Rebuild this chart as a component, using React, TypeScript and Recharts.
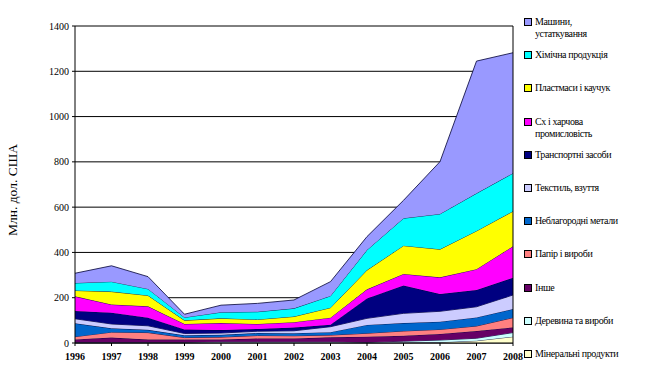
import { AreaChart, Area, XAxis, YAxis, CartesianGrid, ReferenceLine } from 'recharts';

const years = ['1996', '1997', '1998', '1999', '2000', '2001', '2002', '2003', '2004', '2005', '2006', '2007', '2008'];
const yTicks = [0, 200, 400, 600, 800, 1000, 1200, 1400];

// bottom layer first
const mineral = [1, 1, 1, 1, 2, 2, 2, 2, 1, 2, 3, 10, 28];
const wood = [2, 2, 2, 2, 4, 4, 4, 4, 2, 6, 10, 11, 18];
const other = [13, 21, 12, 12, 9, 14, 14, 19, 25, 24, 27, 32, 23];
const paper = [12, 24, 31, 9, 11, 13, 12, 10, 15, 21, 20, 22, 43];
const metals = [59, 17, 12, 10, 10, 11, 11, 13, 37, 35, 34, 38, 38];
const textile = [20, 19, 18, 8, 8, 8, 11, 24, 29, 43, 46, 47, 62];
const transport = [34, 50, 36, 18, 13, 10, 14, 9, 88, 123, 76, 74, 76];
const food = [65, 36, 50, 24, 31, 22, 24, 31, 40, 51, 74, 92, 139];
const plastics = [26, 57, 48, 16, 21, 20, 25, 44, 85, 125, 124, 169, 155];
const chemicals = [33, 44, 29, 13, 27, 34, 36, 52, 89, 121, 156, 166, 168];
const machines = [43, 70, 54, 14, 31, 37, 37, 63, 59, 79, 231, 584, 532];

const series = [
  { key: 'mineral', name: 'Мінеральні продукти', color: '#FFFFCC', values: mineral },
  { key: 'wood', name: 'Деревина та вироби', color: '#CCFFFF', values: wood },
  { key: 'other', name: 'Інше', color: '#660066', values: other },
  { key: 'paper', name: 'Папір і вироби', color: '#FF8080', values: paper },
  { key: 'metals', name: 'Неблагородні метали', color: '#0066CC', values: metals },
  { key: 'textile', name: 'Текстиль, взуття', color: '#CCCCFF', values: textile },
  { key: 'transport', name: 'Транспортні засоби', color: '#000080', values: transport },
  { key: 'food', name: 'Сх і харчова\nпромисловість', color: '#FF00FF', values: food },
  { key: 'plastics', name: 'Пластмаси і каучук', color: '#FFFF00', values: plastics },
  { key: 'chemicals', name: 'Хімічна продукція', color: '#00FFFF', values: chemicals },
  { key: 'machines', name: 'Машини,\nустаткування', color: '#9999FF', values: machines },
];

const data = years.map((year, i) => {
  const row: Record<string, string | number> = { year };
  series.forEach((s) => { row[s.key] = s.values[i]; });
  return row;
});

const serif = '"Liberation Serif", "Times New Roman", serif';

function ChartLegend() {
  return (
    <div style={{ position: 'absolute', left: 524, top: 16, width: 124, fontFamily: serif, fontSize: 10, color: '#000', letterSpacing: -0.4 }}>
      {[...series].reverse().map((s) => (
        <div key={s.key} style={{ height: 33.2, display: 'flex', alignItems: 'flex-start' }}>
          <span style={{ width: 6, height: 6, marginTop: 2, marginRight: 3, flexShrink: 0, background: s.color, border: '1px solid #000' }} />
          <span style={{ whiteSpace: 'pre-line', lineHeight: '12px' }}>{s.name}</span>
        </div>
      ))}
    </div>
  );
}

export default function App() {
  return (
    <div style={{ position: 'absolute', left: 0, top: 0, width: 648, height: 381, background: '#fff' }}>
      <AreaChart width={648} height={381} data={data} margin={{ top: 26, right: 135, bottom: 0, left: 0 }}>
        <CartesianGrid horizontal vertical={false} stroke="#000" strokeWidth={1} />
        <XAxis
          dataKey="year"
          height={38}
          tickSize={3}
          tickMargin={7}
          axisLine={{ stroke: '#000' }}
          tickLine={{ stroke: '#000' }}
          tick={{ fontFamily: serif, fontSize: 10, fontWeight: 'bold', fill: '#000' }}
          interval={0}
        />
        <YAxis
          width={75}
          domain={[0, 1400]}
          ticks={yTicks}
          tickSize={3}
          tickMargin={3}
          axisLine={{ stroke: '#000' }}
          tickLine={{ stroke: '#000' }}
          tick={{ fontFamily: serif, fontSize: 10, fill: '#000' }}
          label={{
            value: 'Млн. дол. США',
            content: () => (
              <text x={12} y={190} transform="rotate(-90, 12, 190)" textAnchor="middle" dominantBaseline="central"
                fontFamily={serif} fontSize={13.5} fill="#000">
                Млн. дол. США
              </text>
            ),
          }}
        />
        {series.map((s) => (
          <Area
            key={s.key}
            type="linear"
            dataKey={s.key}
            name={s.name}
            stackId="1"
            fill={s.color}
            fillOpacity={1}
            stroke="#000033"
            strokeWidth={0.8}
            dot={false}
            activeDot={false}
            isAnimationActive={false}
          />
        ))}
        <ReferenceLine x="2008" stroke="#000" strokeWidth={1} />
      </AreaChart>
      <ChartLegend />
    </div>
  );
}
